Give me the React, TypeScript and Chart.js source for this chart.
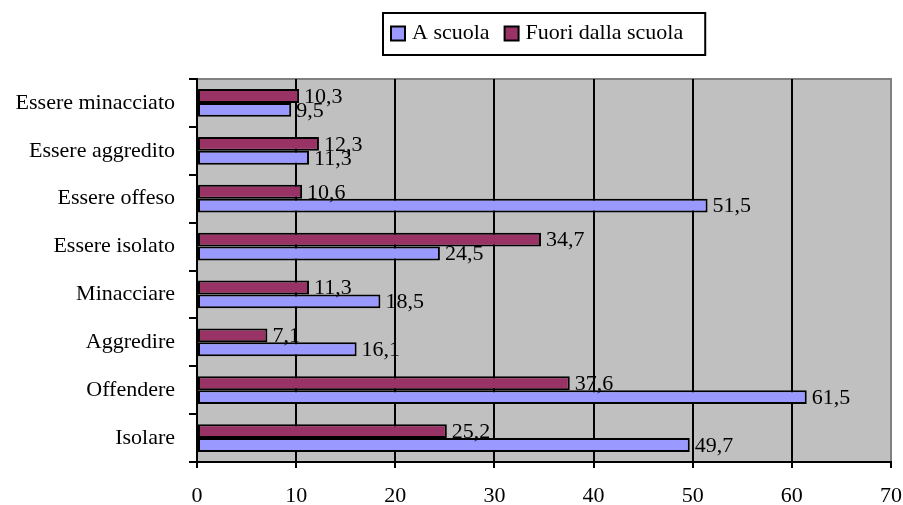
import React, { useEffect, useRef } from 'react';
import { Chart, registerables } from 'chart.js';

Chart.register(...registerables);

const FONT = "'Liberation Serif', 'Times New Roman', serif";

const categories = [
  'Essere minacciato',
  'Essere aggredito',
  'Essere offeso',
  'Essere isolato',
  'Minacciare',
  'Aggredire',
  'Offendere',
  'Isolare',
];
const aScuola = [9.5, 11.3, 51.5, 24.5, 18.5, 16.1, 61.5, 49.7];
const fuoriDallaScuola = [10.3, 12.3, 10.6, 34.7, 11.3, 7.1, 37.6, 25.2];
const seriesNames = ['A scuola', 'Fuori dalla scuola'];
const xMin = 0;
const xMax = 70;
const xStep = 10;

const plotBg = {
  id: 'plotBg',
  beforeDraw(chart: any) {
    const { ctx, chartArea: a } = chart;
    ctx.save();
    ctx.fillStyle = '#C0C0C0';
    ctx.fillRect(a.left, a.top, a.right - a.left, a.bottom - a.top);
    ctx.strokeStyle = '#808080';
    ctx.lineWidth = 2;
    ctx.beginPath();
    ctx.moveTo(a.left, a.top);
    ctx.lineTo(a.right, a.top);
    ctx.lineTo(a.right, a.bottom);
    ctx.stroke();
    ctx.restore();
  },
};

const valueLabels = {
  id: 'valueLabels',
  afterDatasetsDraw(chart: any) {
    const { ctx } = chart;
    ctx.save();
    ctx.font = `22px ${FONT}`;
    ctx.fillStyle = '#000';
    ctx.textAlign = 'left';
    ctx.textBaseline = 'middle';
    chart.data.datasets.forEach((ds: any, i: number) => {
      const meta = chart.getDatasetMeta(i);
      meta.data.forEach((bar: any, j: number) => {
        const v = ds.data[j];
        ctx.fillText(String(v).replace('.', ','), bar.x + 5, bar.y + 1);
      });
    });
    ctx.restore();
  },
};

const boxLegend = {
  id: 'boxLegend',
  afterDraw(chart: any) {
    const { ctx, chartArea: a } = chart;
    const ds = chart.data.datasets;
    const order = [1, 0];
    ctx.save();
    ctx.font = `22px ${FONT}`;
    const widths = order.map((i) => ctx.measureText(ds[i].label).width);
    const sq = 14, gapSq = 7, gapItem = 15, padL = 8, padR = 22;
    let inner = 0;
    widths.forEach((w, k) => {
      inner += sq + gapSq + w + (k < widths.length - 1 ? gapItem : 0);
    });
    const W = padL + inner + padR;
    const cx = (a.left + a.right) / 2;
    const left = Math.round(cx - W / 2);
    const top = 13;
    const h = 42;
    const cy = 33.5;
    ctx.lineWidth = 2;
    ctx.strokeStyle = '#000';
    ctx.strokeRect(left, top, W, h);
    let x = left + padL;
    order.forEach((i, k) => {
      ctx.fillStyle = ds[i].backgroundColor;
      ctx.fillRect(x, cy - sq / 2, sq, sq);
      ctx.strokeRect(x, cy - sq / 2, sq, sq);
      x += sq + gapSq;
      ctx.fillStyle = '#000';
      ctx.textAlign = 'left';
      ctx.textBaseline = 'middle';
      ctx.fillText(ds[i].label, x, cy);
      x += widths[k] + gapItem;
    });
    ctx.restore();
  },
};

export default function App() {
  const ref = useRef<HTMLCanvasElement | null>(null);

  useEffect(() => {
    if (!ref.current) return;
    const chart = new Chart(ref.current, {
      type: 'bar',
      data: {
        labels: categories,
        datasets: [
          {
            label: seriesNames[1],
            data: fuoriDallaScuola,
            backgroundColor: '#993366',
            borderColor: '#000',
            borderWidth: 2,
            borderSkipped: false,
            categoryPercentage: 0.58,
            barPercentage: 1,
          },
          {
            label: seriesNames[0],
            data: aScuola,
            backgroundColor: '#9999FF',
            borderColor: '#000',
            borderWidth: 2,
            borderSkipped: false,
            categoryPercentage: 0.58,
            barPercentage: 1,
          },
        ],
      },
      options: {
        indexAxis: 'y',
        responsive: false,
        animation: false,
        devicePixelRatio: 1,
        layout: { padding: { left: 0, top: 79, right: 0, bottom: 0 } },
        plugins: {
          legend: { display: false },
          tooltip: { enabled: false },
          title: { display: false },
        },
        scales: {
          x: {
            type: 'linear',
            position: 'bottom',
            min: xMin,
            max: xMax,
            ticks: {
              stepSize: xStep,
              color: '#000',
              padding: 15,
              font: { family: FONT, size: 22 },
            },
            grid: {
              color: (c: any) => (c.tick && c.tick.value === xMax ? '#808080' : '#000'),
              lineWidth: 2,
              tickLength: 6,
              tickColor: '#000',
              drawTicks: true,
            },
            border: { display: true, color: '#000', width: 2 },
            afterFit: (s: any) => {
              s.height = 43;
              s.paddingRight = 12;
              s.paddingLeft = 0;
            },
          },
          y: {
            type: 'category',
            offset: true,
            ticks: {
              color: '#000',
              padding: 14,
              font: { family: FONT, size: 22 },
            },
            grid: {
              offset: true,
              drawOnChartArea: false,
              tickLength: 8,
              tickColor: '#000',
              lineWidth: 2,
            },
            border: { display: true, color: '#000', width: 2 },
            afterFit: (s: any) => {
              s.width = 197;
            },
          },
        },
      },
      plugins: [plotBg, valueLabels, boxLegend],
    } as any);
    return () => chart.destroy();
  }, []);

  return (
    <div style={{ position: 'absolute', left: 0, top: 0, width: 903, height: 505, background: '#fff' }}>
      <canvas ref={ref} width={903} height={505} style={{ display: 'block' }} />
    </div>
  );
}
